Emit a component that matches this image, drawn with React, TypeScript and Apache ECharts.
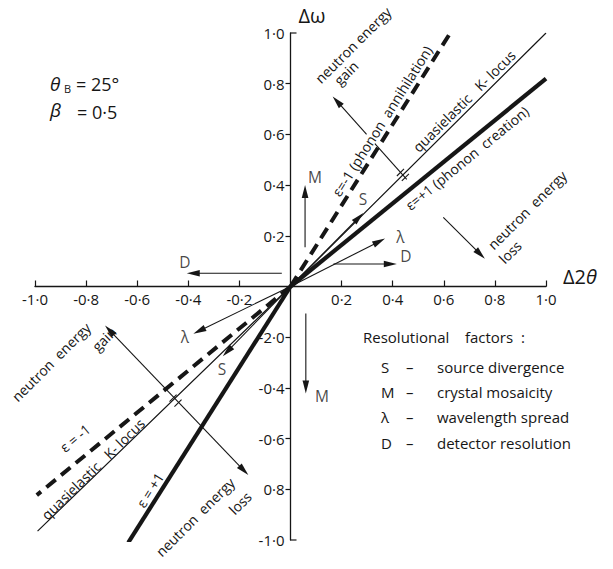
import React, { useEffect, useRef } from 'react';
import * as echarts from 'echarts';

const FONT = '"Open Sans", "Noto Sans", sans-serif';
const INK = '#161616';
const W_TEXT = 400;

// axis ticks and labels
const tickValues = [-1, -0.8, -0.6, -0.4, -0.2, 0.2, 0.4, 0.6, 0.8, 1];
const xTickLabels = ['-1·0', '-0·8', '-0·6', '-0·4', '-0·2', '0·2', '0·4', '0·6', '0·8', '1·0'];
const yTickLabels = ['-1·0', '0·8', '-0·6', '-0·4', '-2·0', '0·2', '0·4', '0·6', '0·8', '1·0'];
const yInnerTicks = [-0.8, -0.6, -0.4, -0.2, 0.2, 0.4, 0.6, 0.8];
const yEndTicks = [1, -1];

// loci (Δ2θ, Δω)
const epsMinusUpper = [[0, 0], [0.644, 1.03]];
const epsMinusLower = [[0, 0], [-0.993, -0.823]];
const kLocus = [[-0.99, -0.965], [0, 0], [1.0, 1.0]];
const epsPlusUpper = [[0, 0], [1.0, 0.82]];
const epsPlusLower = [[0, 0], [-0.635, -1.01]];

// resolution arrows: [x0, y0, x1, y1, heads]
const resolutionArrows = [
  [0.057, 0.155, 0.057, 0.4, 1],
  [0.06, -0.107, 0.06, -0.422, 1],
  [-0.034, 0.052, -0.406, 0.052, 1],
  [0.168, 0.089, 0.416, 0.089, 1],
  [0, 0, 0.37, 0.189, 1],
  [0, 0, -0.38, -0.186, 1],
  [0, 0, 0.285, 0.29, 1],
  [0, 0, -0.265, -0.275, 1],
];
const energyArrows = [
  [0.455, 0.423, 0.165, 0.75, 1],
  [0.598, 0.273, 0.761, 0.109, 1],
  [-0.165, -0.744, -0.726, -0.154, 2],
];
const crossMarks = [[0.44, 0.44], [-0.45, -0.45]];

const arrowLabelText = ['M', 'M', 'D', 'D', 'λ', 'λ', 'S', 'S'];
const arrowLabelAt = [
  [0.096, 0.433], [0.123, -0.433], [-0.413, 0.098], [0.452, 0.122],
  [0.43, 0.197], [-0.413, -0.2], [0.284, 0.344], [-0.268, -0.327],
];

// rotated annotations (pixel centre, degrees)
const notes = [
  { text: 'neutron energy', x: 353, y: 45, rot: 45 },
  { text: 'gain', x: 346, y: 73, rot: 45 },
  { text: 'ε=-1 (phonon  annihilation)', x: 382, y: 121, rot: 57.8, mask: true },
  { text: 'quasielastic   K- locus', x: 464, y: 101, rot: 44.7 },
  { text: 'ε=+1 (phonon  creation)', x: 467, y: 158, rot: 39.3 },
  { text: 'neutron  energy', x: 527, y: 210, rot: 45 },
  { text: 'loss', x: 510, y: 252, rot: 45 },
  { text: 'neutron  energy', x: 51, y: 362, rot: 45 },
  { text: 'gain', x: 104, y: 339, rot: 45 },
  { text: 'ε = -1', x: 75, y: 438, rot: 39.5 },
  { text: 'quasielastic   K- locus', x: 93, y: 469, rot: 44.3 },
  { text: 'ε = +1', x: 150, y: 490, rot: 57.7 },
  { text: 'neutron  energy', x: 195, y: 517, rot: 45 },
  { text: 'loss', x: 240, y: 503, rot: 45 },
];

const legendTitle = 'Resolutional    factors  :';
const legendSymbols = ['S', 'M', 'λ', 'D'];
const legendDescriptions = ['source divergence', 'crystal mosaicity', 'wavelength spread', 'detector resolution'];
const legendRowsY = [367, 391.5, 417, 443];

function labelFor(list: string[], v: number) {
  const i = tickValues.findIndex((t) => Math.abs(t - v) < 1e-6);
  return i >= 0 ? list[i] : '';
}

function renderArrow(params: any, api: any) {
  const a = api.coord([api.value(0), api.value(1)]);
  const b = api.coord([api.value(2), api.value(3)]);
  const heads = api.value(4);
  const dx = b[0] - a[0];
  const dy = b[1] - a[1];
  const len = Math.hypot(dx, dy) || 1;
  const ux = dx / len;
  const uy = dy / len;
  const nx = -uy;
  const ny = ux;
  const L = 13;
  const W = 3.3;
  const head = (tip: number[], sx: number, sy: number) => ({
    type: 'polygon',
    shape: {
      points: [
        [tip[0], tip[1]],
        [tip[0] - sx * L + nx * W, tip[1] - sy * L + ny * W],
        [tip[0] - sx * L - nx * W, tip[1] - sy * L - ny * W],
      ],
    },
    style: { fill: INK },
  });
  const start = heads === 2 ? [a[0] + ux * L * 0.7, a[1] + uy * L * 0.7] : a;
  const end = [b[0] - ux * L * 0.7, b[1] - uy * L * 0.7];
  const children: any[] = [
    { type: 'line', shape: { x1: start[0], y1: start[1], x2: end[0], y2: end[1] }, style: { stroke: INK, lineWidth: 1.1 } },
    head(b, ux, uy),
  ];
  if (heads === 2) children.push(head(a, -ux, -uy));
  return { type: 'group', children };
}

function renderCross(params: any, api: any) {
  const p = api.coord([api.value(0), api.value(1)]);
  const o = api.coord([0, 0]);
  let ux = p[0] - o[0];
  let uy = p[1] - o[1];
  const l = Math.hypot(ux, uy) || 1;
  ux /= l; uy /= l;
  const nx = -uy;
  const ny = ux;
  const h = 5;
  const off = 3.5;
  const bar = (s: number) => ({
    type: 'line',
    shape: {
      x1: p[0] + nx * off * s - ux * h, y1: p[1] + ny * off * s - uy * h,
      x2: p[0] + nx * off * s + ux * h, y2: p[1] + ny * off * s + uy * h,
    },
    style: { stroke: INK, lineWidth: 1.1 },
  });
  return { type: 'group', children: [bar(1), bar(-1)] };
}

function renderEndTick(params: any, api: any) {
  const p = api.coord([0, api.value(0)]);
  return { type: 'line', shape: { x1: p[0], y1: p[1], x2: p[0] + 6, y2: p[1] }, style: { stroke: INK, lineWidth: 1.2 } };
}

const textEl = (text: string, x: number, y: number, size: number, extra: any = {}) => ({
  type: 'text',
  x,
  y,
  z: extra.z || 100,
  rotation: extra.rot ? (extra.rot * Math.PI) / 180 : 0,
  style: {
    text,
    fill: INK,
    fontSize: size,
    fontFamily: FONT,
    fontWeight: W_TEXT,
    fontStyle: extra.italic ? 'italic' : 'normal',
    align: extra.align || 'center',
    verticalAlign: 'middle',
    backgroundColor: extra.mask ? '#ffffff' : undefined,
    padding: extra.mask ? [0, 1] : undefined,
    lineHeight: extra.mask ? 12 : undefined,
  },
});

export default function App() {
  const ref = useRef<HTMLDivElement>(null);
  useEffect(() => {
    if (!ref.current) return;
    const chart = echarts.init(ref.current, undefined, { renderer: 'svg' });
    const lineSeries = (data: number[][], width: number, dashed = false) => ({
      type: 'line',
      data,
      symbol: 'none',
      silent: true,
      z: 5,
      lineStyle: { color: INK, width, type: dashed ? [12, 7] : 'solid', cap: 'butt' },
    });
    const graphics: any[] = [];
    notes.forEach((n) => graphics.push(textEl(n.text, n.x, n.y, 14, { rot: n.rot, mask: n.mask, z: n.mask ? 4 : 100 })));
    graphics.push(textEl('θ', 50, 84, 19, { align: 'left', italic: true }));
    graphics.push(textEl('B', 64, 88, 11, { align: 'left' }));
    graphics.push(textEl('= 25°', 76, 84, 18, { align: 'left' }));
    graphics.push(textEl('β', 50, 110, 19, { align: 'left', italic: true }));
    graphics.push(textEl('= 0·5', 77, 112, 18, { align: 'left' }));
    graphics.push(textEl(legendTitle, 363, 337, 15, { align: 'left' }));
    legendSymbols.forEach((s, i) => {
      graphics.push(textEl(s, 381, legendRowsY[i], 15, { align: 'left' }));
      graphics.push(textEl('–', 406, legendRowsY[i], 15, { align: 'left' }));
      graphics.push(textEl(legendDescriptions[i], 437, legendRowsY[i], 15, { align: 'left' }));
    });

    const gridW = 613 - 35 - 67;
    const gridH = 569 - 33 - 29;

    chart.setOption({
      animation: false,
      backgroundColor: '#ffffff',
      grid: { left: 35, right: 67, top: 33, bottom: 29, containLabel: false },
      xAxis: {
        type: 'value',
        min: -1,
        max: 1,
        interval: 0.2,
        position: 'bottom',
        offset: -gridH / 2,
        name: '{a|Δ2}{b|θ}',
        nameLocation: 'end',
        nameGap: 17,
        nameTextStyle: {
          align: 'left',
          verticalAlign: 'bottom',
          rich: {
            a: { fontSize: 20, fontFamily: FONT, color: INK },
            b: { fontSize: 20, fontFamily: FONT, color: INK, fontStyle: 'italic' },
          },
        },
        axisLine: { onZero: false, lineStyle: { color: INK, width: 1.3 } },
        axisTick: { inside: true, length: 6, customValues: tickValues, lineStyle: { color: INK, width: 1.2 } },
        axisLabel: {
          customValues: tickValues,
          formatter: (v: number) => labelFor(xTickLabels, v),
          margin: 5,
          fontSize: 15,
          fontFamily: FONT,
          color: INK,
        },
        splitLine: { show: false },
      },
      yAxis: {
        type: 'value',
        min: -1,
        max: 1,
        interval: 0.2,
        position: 'left',
        offset: -gridW / 2,
        name: 'Δω',
        nameLocation: 'end',
        nameGap: 8,
        nameTextStyle: { align: 'left', verticalAlign: 'bottom', padding: [0, 0, 0, 8], fontSize: 20, fontFamily: FONT, color: INK },
        axisLine: { onZero: false, lineStyle: { color: INK, width: 1.3 } },
        axisTick: { inside: false, length: 5, customValues: yInnerTicks, lineStyle: { color: INK, width: 1.2 } },
        axisLabel: {
          customValues: tickValues,
          formatter: (v: number) => labelFor(yTickLabels, v),
          margin: 6,
          fontSize: 15,
          fontFamily: FONT,
          color: INK,
        },
        splitLine: { show: false },
      },
      series: [
        lineSeries(kLocus, 1.2),
        lineSeries(epsMinusUpper, 4, true),
        lineSeries(epsMinusLower, 4, true),
        lineSeries(epsPlusUpper, 4.2),
        lineSeries(epsPlusLower, 4.2),
        {
          type: 'custom',
          coordinateSystem: 'cartesian2d',
          renderItem: renderArrow,
          data: resolutionArrows.concat(energyArrows),
          encode: { x: [0, 2], y: [1, 3] },
          silent: true,
          z: 3,
        },
        {
          type: 'custom',
          coordinateSystem: 'cartesian2d',
          renderItem: renderCross,
          data: crossMarks,
          encode: { x: 0, y: 1 },
          silent: true,
          z: 6,
        },
        {
          type: 'custom',
          coordinateSystem: 'cartesian2d',
          renderItem: renderEndTick,
          data: yEndTicks.map((v) => [v]),
          encode: { y: 0 },
          silent: true,
          z: 6,
        },
        {
          type: 'scatter',
          symbolSize: 0,
          silent: true,
          data: arrowLabelAt.map((p, i) => ({ value: p, name: arrowLabelText[i] })),
          label: {
            show: true,
            position: 'inside',
            formatter: '{b}',
            fontSize: 15.5,
            fontFamily: FONT,
            color: INK,
          },
          z: 7,
        },
      ],
      graphic: graphics,
    });
    return () => chart.dispose();
  }, []);
  return <div ref={ref} style={{ position: 'fixed', left: 0, top: 0, width: 613, height: 569, background: '#fff' }} />;
}
